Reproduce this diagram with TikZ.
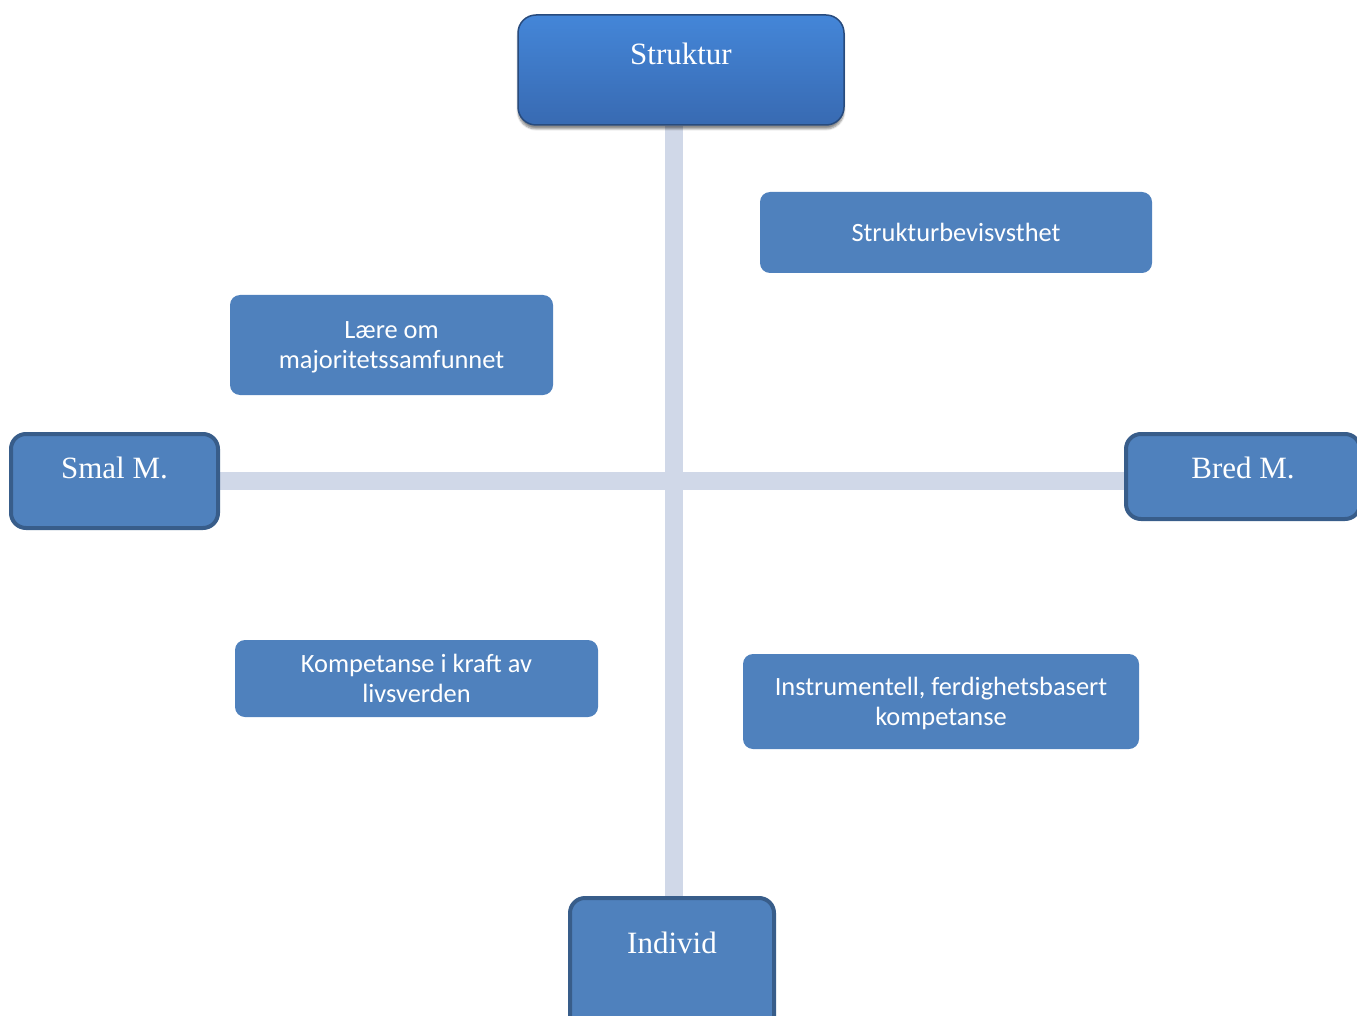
\documentclass[tikz,border=0pt]{standalone}
\usepackage{fontspec}
\setmainfont{Liberation Serif}
\newfontfamily\calibri{Carlito}
\usetikzlibrary{shadows.blur,backgrounds}
\definecolor{boxblue}{RGB}{79,129,189}
\definecolor{boxedge}{RGB}{56,93,138}
\definecolor{axiscol}{RGB}{208,216,232}
\definecolor{topblue}{RGB}{68,134,216}
\definecolor{botblue}{RGB}{56,106,178}
\definecolor{strokedge}{RGB}{40,75,125}
\begin{document}
\begin{tikzpicture}[x=1pt,y=-1pt,
  inner/.style={fill=boxblue, rounded corners=10pt, text=white,
    font=\calibri\fontsize{26.4}{30}\selectfont, align=center, inner sep=0pt},
  pole/.style={fill=boxblue, draw=boxedge, line width=4pt, rounded corners=15pt,
    text=white, font=\fontsize{31}{36}\selectfont, inner sep=0pt},
  axis/.style={draw=axiscol, line width=18pt}]
\useasboundingbox (0,0) rectangle (1357,1016);
\clip (0,0) rectangle (1357,1016);

\node[pole, top color=topblue, bottom color=botblue, draw=strokedge, line width=1.5pt,
  rounded corners=18pt, minimum width=326pt, minimum height=110pt,
  text height=22pt, text depth=32pt,
  blur shadow={shadow blur steps=6, shadow xshift=0pt, shadow yshift=-4pt, shadow opacity=45}]
  (struktur) at (681,70) {Struktur};
\node[pole, minimum width=207pt, minimum height=94pt, text height=22pt, text depth=28pt]
  (smal) at (114.5,481) {Smal M.};
\node[pole, minimum width=234pt, minimum height=85pt, text height=22pt, text depth=19pt]
  (bred) at (1243,476.5) {Bred M.};
\node[pole, minimum width=204pt, minimum height=134pt, text height=22pt, text depth=46pt]
  (individ) at (672,965) {Individ};

\node[inner, minimum width=392pt, minimum height=81pt] (sbev) at (956,232.5) {Strukturbevisvsthet};
\node[inner, minimum width=323pt, minimum height=100pt, text depth=0pt] (laere) at (391.5,345) {Lære om\\majoritetssamfunnet};
\node[inner, minimum width=363pt, minimum height=77pt] (komp) at (416.5,678.5) {Kompetanse i kraft av\\livsverden};
\node[inner, minimum width=396pt, minimum height=95pt, text depth=0pt] (instr) at (941,701.5) {Instrumentell, ferdighetsbasert\\kompetanse};

\coordinate (c) at (674,481);
\begin{scope}[on background layer]
  \draw[axis] (struktur.south -| c) -- (individ.north -| c);
  \draw[axis] (smal.east |- c) -- (bred.west |- c);
\end{scope}
\end{tikzpicture}
\end{document}
